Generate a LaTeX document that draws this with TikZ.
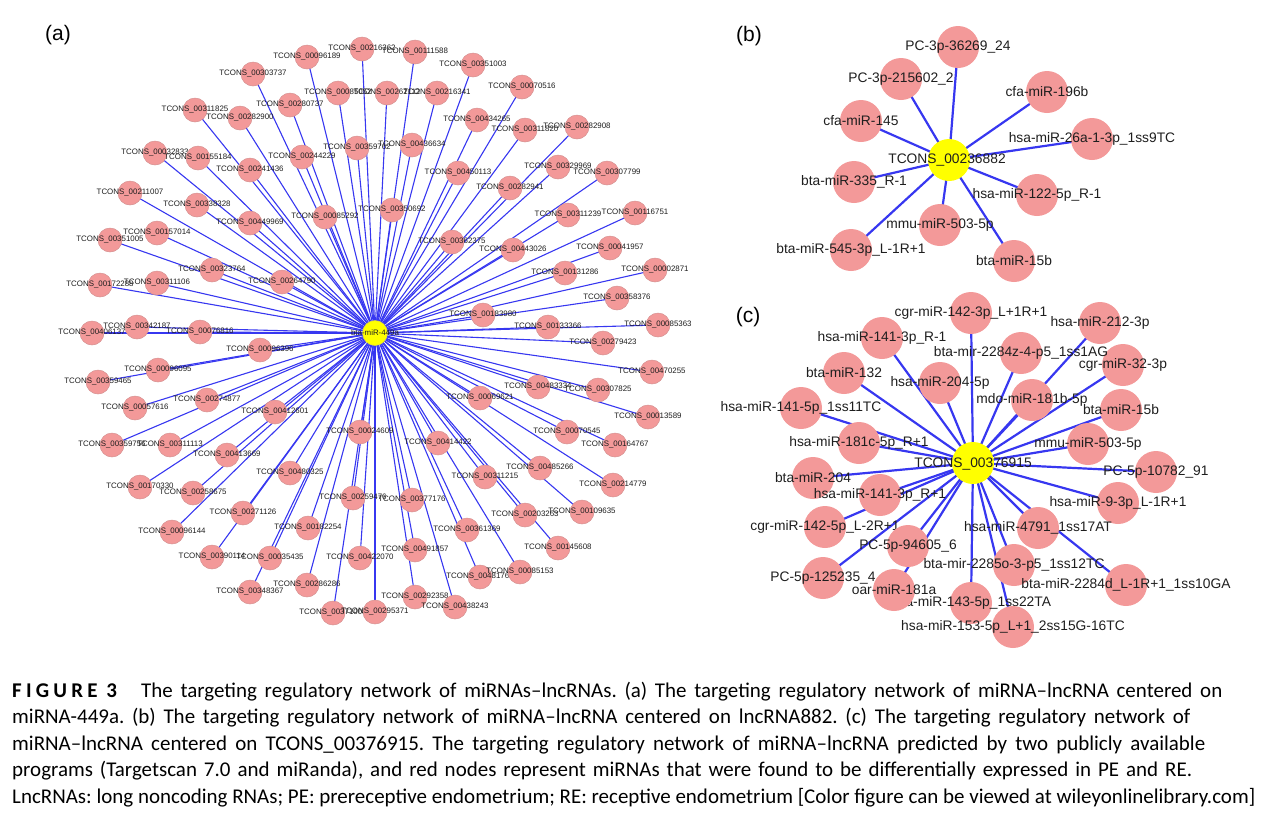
\documentclass[tikz,border=0pt]{standalone}
\usepackage{fontspec}
\setmainfont{Liberation Sans}
\newfontfamily\capfont{Carlito}
\pgfdeclarelayer{edges}
\pgfsetlayers{edges,main}
\definecolor{nodepink}{RGB}{243,153,153}
\definecolor{nodeedge}{RGB}{214,145,145}
\definecolor{edgeblue}{RGB}{55,55,240}
\definecolor{hubyellow}{RGB}{255,255,0}
\definecolor{labelgray}{RGB}{30,30,30}
\tikzset{
  acirc/.style={circle,fill=nodepink,draw=nodeedge,line width=0.5pt,minimum size=24pt,inner sep=0pt},
  ahub/.style={circle,fill=hubyellow,draw=yellow!70!gray,line width=0.5pt,minimum size=25pt,inner sep=0pt},
  alab/.style={inner sep=0pt,text=labelgray,font=\fontsize{7.9}{8}\selectfont},
  bcirc/.style={circle,fill=nodepink,minimum size=42pt,inner sep=0pt},
  bhub/.style={circle,fill=hubyellow,minimum size=42pt,inner sep=0pt},
  blab/.style={inner sep=0pt,text=labelgray,font=\fontsize{13.8}{14}\selectfont},
  aedge/.style={draw=edgeblue,line width=1.1pt},
  bedge/.style={draw=edgeblue,line width=2.2pt},
  panel/.style={inner sep=0pt,font=\fontsize{21}{22}\selectfont},
  capline/.style={anchor=base west,inner sep=0pt,font=\capfont\fontsize{\capsize}{\capsize}\selectfont},
}
\newcommand\AN[4]{\node[acirc] (#1) at (#2,#3) {}; \node[alab] at (#2,#3) {TCONS\_#4};}
\newcommand\BN[4]{\node[bcirc] (#1) at (#2,#3) {}; \node[blab] at (#2,#3) {#4};}
\newlength\capw
\frenchspacing
\begin{document}%
\settowidth\capw{\capfont\fontsize{10}{12}\selectfont LncRNAs: long noncoding RNAs; PE: prereceptive endometrium; RE: receptive endometrium [Color figure can be viewed at wileyonlinelibrary.com]}%
\pgfmathsetmacro\capsize{10*1243/\capw}%
\begin{tikzpicture}[x=1pt,y=-1pt]
\path[use as bounding box] (0,0) rectangle (1269,820);
% ---------- panel (a)
\node[panel] (pa) at (58,35) {(a)};
\AN{a1}{253}{74}{00303737}
\AN{a2}{307}{57}{00096189}
\AN{a3}{362}{49}{00216362}
\AN{a4}{415}{52}{00111588}
\AN{a5}{473}{65}{00351003}
\AN{a6}{522}{87}{00070516}
\AN{a7}{195}{110}{00311825}
\AN{a8}{240}{118}{00282900}
\AN{a9}{290}{105}{00280737}
\AN{a10}{338}{93}{00085052}
\AN{a11}{387}{93}{00262112}
\AN{a12}{437}{93}{00216341}
\AN{a13}{477}{120}{00434265}
\AN{a14}{525}{130}{00311820}
\AN{a15}{577}{127}{00282908}
\AN{a16}{155}{153}{00032833}
\AN{a17}{198}{158}{00155184}
\AN{a18}{250}{170}{00241436}
\AN{a19}{302}{157}{00244229}
\AN{a20}{357}{148}{00359762}
\AN{a21}{412}{145}{00436634}
\AN{a22}{458}{173}{00450113}
\AN{a23}{558}{167}{00329969}
\AN{a24}{607}{173}{00307799}
\AN{a25}{510}{188}{00282941}
\AN{a26}{130}{193}{00211007}
\AN{a27}{197}{205}{00338328}
\AN{a28}{250}{223}{00449969}
\AN{a29}{325}{217}{00085292}
\AN{a30}{392}{210}{00350692}
\AN{a31}{452}{242}{00362375}
\AN{a32}{568}{215}{00311239}
\AN{a33}{635}{213}{00116751}
\AN{a34}{513}{250}{00443026}
\AN{a35}{610}{248}{00041957}
\AN{a36}{565}{273}{00131286}
\AN{a37}{655}{270}{00002871}
\AN{a38}{617}{298}{00358376}
\AN{a39}{483}{315}{00183980}
\AN{a40}{548}{327}{00133366}
\AN{a41}{658}{325}{00085363}
\AN{a42}{110}{240}{00351005}
\AN{a43}{157}{233}{00157014}
\AN{a44}{212}{270}{00323764}
\AN{a45}{282}{282}{00264790}
\AN{a46}{100}{285}{00172288}
\AN{a47}{157}{283}{00311106}
\AN{a48}{92}{333}{00406137}
\AN{a49}{137}{327}{00342187}
\AN{a50}{200}{332}{00076816}
\AN{a51}{260}{350}{00096396}
\AN{a52}{158}{370}{00096095}
\AN{a53}{98}{382}{00359465}
\AN{a54}{135}{408}{00057616}
\AN{a55}{207}{400}{00274877}
\AN{a56}{275}{412}{00412601}
\AN{a57}{112}{445}{00359756}
\AN{a58}{170}{445}{00311113}
\AN{a59}{227}{455}{00413669}
\AN{a60}{140}{487}{00170330}
\AN{a61}{193}{493}{00258675}
\AN{a62}{290}{473}{00480325}
\AN{a63}{243}{513}{00271126}
\AN{a64}{172}{532}{00096144}
\AN{a65}{212}{557}{00390114}
\AN{a66}{270}{558}{00035435}
\AN{a67}{250}{592}{00348367}
\AN{a68}{307}{585}{00286286}
\AN{a69}{333}{613}{00371005}
\AN{a70}{375}{612}{00295371}
\AN{a71}{415}{597}{00292358}
\AN{a72}{455}{607}{00438243}
\AN{a73}{308}{528}{00182254}
\AN{a74}{360}{558}{00422070}
\AN{a75}{415}{550}{00491857}
\AN{a76}{353}{498}{00259476}
\AN{a77}{412}{500}{00377176}
\AN{a78}{360}{432}{00024609}
\AN{a79}{438}{443}{00414422}
\AN{a80}{467}{530}{00361369}
\AN{a81}{480}{577}{00481766}
\AN{a82}{520}{572}{00085153}
\AN{a83}{558}{548}{00145608}
\AN{a84}{525}{515}{00203263}
\AN{a85}{582}{512}{00109635}
\AN{a86}{485}{477}{00311215}
\AN{a87}{540}{468}{00485266}
\AN{a88}{613}{485}{00214779}
\AN{a89}{567}{432}{00070545}
\AN{a90}{615}{445}{00164767}
\AN{a91}{480}{398}{00069621}
\AN{a92}{538}{387}{00483334}
\AN{a93}{598}{390}{00307825}
\AN{a94}{648}{417}{00013589}
\AN{a95}{652}{372}{00470255}
\AN{a96}{603}{343}{00279423}
\node[ahub] (ahubn) at (375,333) {};
\node[alab] at (375,333) {bta-miR-449a};
\begin{pgfonlayer}{edges}
\foreach \i in {1,...,96} {\draw[aedge] (ahubn.center) -- (a\i.center);}
\end{pgfonlayer}
% ---------- panel (b)
\node[panel] (pb) at (749,36) {(b)};
\BN{b1}{958}{47}{PC-3p-36269\_24}
\BN{b2}{901}{79}{PC-3p-215602\_2}
\BN{b3}{1047}{92}{cfa-miR-196b}
\BN{b4}{861}{121}{cfa-miR-145}
\BN{b6}{854}{182}{bta-miR-335\_R-1}
\BN{b7}{1037}{195}{hsa-miR-122-5p\_R-1}
\BN{b8}{940}{225}{mmu-miR-503-5p}
\BN{b9}{851}{250}{bta-miR-545-3p\_L-1R+1}
\BN{b10}{1014}{261}{bta-miR-15b}
\node[bhub] (bhubn) at (949,160) {};
\node[blab] at (947,160) {TCONS\_00236882};
\BN{b5}{1092}{139}{hsa-miR-26a-1-3p\_1ss9TC}
\begin{pgfonlayer}{edges}
\foreach \i in {1,...,10} {\draw[bedge] (bhubn.center) -- (b\i.center);}
\end{pgfonlayer}
% ---------- panel (c)
\node[panel] (pc) at (748,317) {(c)};
\BN{c1}{971}{313}{cgr-miR-142-3p\_L+1R+1}
\BN{c2}{1100}{323}{hsa-miR-212-3p}
\BN{c3}{882}{338}{hsa-miR-141-3p\_R-1}
\BN{c5}{1123}{365}{cgr-miR-32-3p}
\BN{c6}{844}{373}{bta-miR-132}
\BN{c7}{940}{383}{hsa-miR-204-5p}
\BN{c4}{1021}{353}{bta-mir-2284z-4-p5\_1ss1AG}
\BN{c8}{1032}{400}{mdo-miR-181b-5p}
\BN{c9}{1121}{410}{bta-miR-15b}
\BN{c10}{801}{408}{hsa-miR-141-5p\_1ss11TC}
\BN{c11}{859}{443}{hsa-miR-181c-5p\_R+1}
\BN{c12}{1088}{444}{mmu-miR-503-5p}
\BN{c13}{1156}{472}{PC-5p-10782\_91}
\BN{c14}{813}{478}{bta-miR-204}
\BN{c15}{880}{495}{hsa-miR-141-3p\_R+1}
\BN{c16}{1118}{503}{hsa-miR-9-3p\_L-1R+1}
\BN{c17}{825}{527}{cgr-miR-142-5p\_L-2R+1}
\BN{c18}{1038}{528}{hsa-miR-4791\_1ss17AT}
\BN{c19}{908}{546}{PC-5p-94605\_6}
\BN{c20}{1014}{565}{bta-mir-2285o-3-p5\_1ss12TC}
\BN{c21}{823}{578}{PC-5p-125235\_4}
\BN{c22}{1126}{585}{bta-miR-2284d\_L-1R+1\_1ss10GA}
\BN{c23}{971}{603}{hsa-miR-143-5p\_1ss22TA}
\BN{c24}{894}{590}{oar-miR-181a}
\BN{c25}{1013}{627}{hsa-miR-153-5p\_L+1\_2ss15G-16TC}
\node[bhub] (chubn) at (973,463) {};
\node[blab] at (973,464) {TCONS\_00376915};
\begin{pgfonlayer}{edges}
\foreach \i in {1,...,25} {\draw[bedge] (chubn.center) -- (c\i.center);}
\end{pgfonlayer}
% ---------- caption
\node[capline] (cap0) at (12,697) {\bfseries\addfontfeatures{LetterSpace=20}FIGURE 3};
\node[capline] (cap1) at (141,697) {\makebox[1081pt][s]{The targeting regulatory network of miRNAs–lncRNAs. (a) The targeting regulatory network of miRNA–lncRNA centered on}};
\node[capline] (cap2) at (12,723.5) {\makebox[1178pt][s]{miRNA-449a. (b) The targeting regulatory network of miRNA–lncRNA centered on lncRNA882. (c) The targeting regulatory network of}};
\node[capline] (cap3) at (12,750) {\makebox[1193pt][s]{miRNA–lncRNA centered on TCONS\_00376915. The targeting regulatory network of miRNA–lncRNA predicted by two publicly available}};
\node[capline] (cap4) at (12,776.5) {\makebox[1180pt][s]{programs (Targetscan 7.0 and miRanda), and red nodes represent miRNAs that were found to be differentially expressed in PE and RE.}};
\node[capline] (cap5) at (12,803) {\makebox[1243pt][s]{LncRNAs: long noncoding RNAs; PE: prereceptive endometrium; RE: receptive endometrium [Color figure can be viewed at wileyonlinelibrary.com]}};
\end{tikzpicture}
\end{document}
